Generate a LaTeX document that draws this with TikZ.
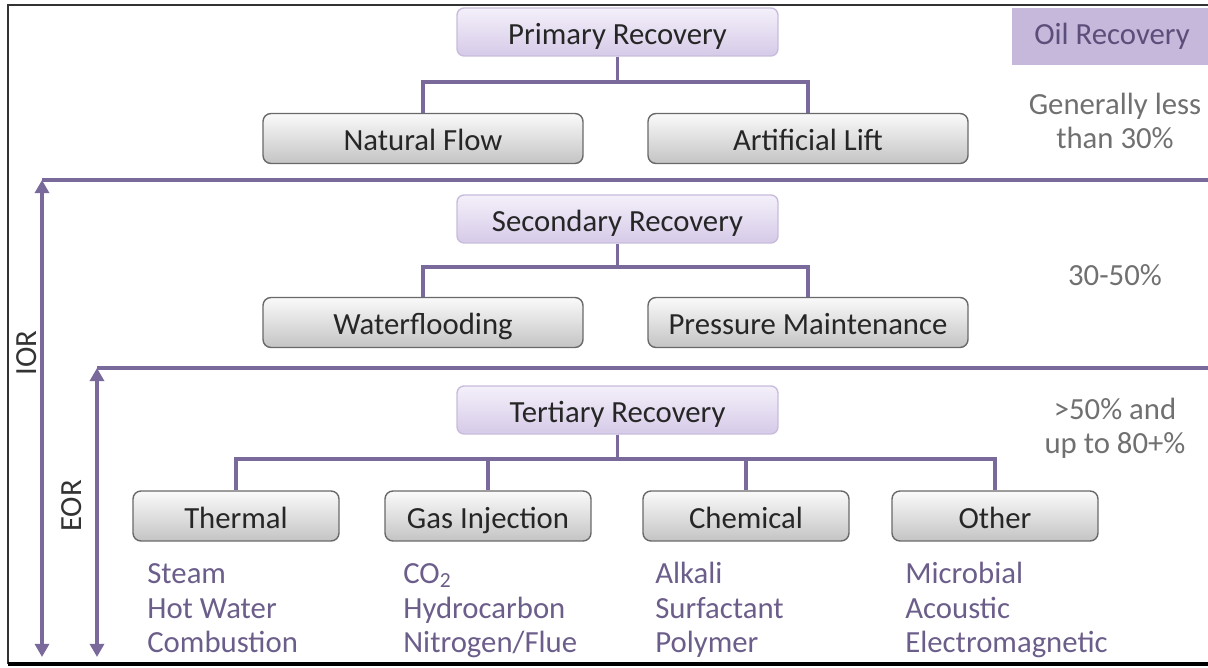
\documentclass[tikz,border=0pt]{standalone}
\usepackage{fontspec}
\setmainfont{Carlito}
\usetikzlibrary{positioning,arrows.meta}

\definecolor{lineviolet}{RGB}{122,106,155}
\definecolor{stageedge}{RGB}{200,188,220}
\definecolor{stagetop}{RGB}{244,240,250}
\definecolor{stagebot}{RGB}{214,202,232}
\definecolor{methodedge}{RGB}{105,105,105}
\definecolor{methodtop}{RGB}{250,250,250}
\definecolor{methodbot}{RGB}{196,196,196}
\definecolor{oilfill}{RGB}{197,184,218}
\definecolor{oiltext}{RGB}{92,78,122}
\definecolor{listtext}{RGB}{108,94,138}
\definecolor{sidetext}{RGB}{112,112,112}

\begin{document}
\begin{tikzpicture}
		[
			x=0.02cm, y=-0.02cm,
			every node/.style={font=\fontsize{17.5}{19.8}\selectfont},
			stage/.style={draw=stageedge, line width=0.8pt, rounded corners=4pt, top color=stagetop, bottom color=stagebot, minimum width=6.42cm, minimum height=0.96cm, text height=14pt, text depth=0pt, text=black!85},
			method/.style={draw=methodedge, line width=0.8pt, rounded corners=4.5pt, top color=methodtop, bottom color=methodbot, minimum width=6.4cm, minimum height=1.0cm, text height=14pt, text depth=0pt, text=black!85},
			technique/.style={method, minimum width=4.12cm},
			examples/.style={align=left, inner sep=0pt, text=listtext, anchor=base west},
			share/.style={align=center, inner sep=0pt, text=sidetext, anchor=base},
			conn/.style={draw=lineviolet, line width=2.1pt},
			span/.style={draw=lineviolet, line width=2.1pt, {Triangle[width=8pt,length=7.5pt]}-{Triangle[width=8pt,length=7.5pt]}}
		]
		\useasboundingbox (0,0) rectangle (1208,668);

		% frame
		\draw[black!80, line width=1.2pt] (1212,5) -- (8,5) -- (8,664);
		\draw[black, line width=1.8pt] (8,664) -- (1212,664);

		% stages
		\node[stage] (primary) at (617.5,32) {Primary Recovery};
		\node[method] (natural) at (423,138.5) {Natural Flow};
		\node[method] (artificial) at (808,138.5) {Artificial Lift};

		\node[stage] (secondary) at (617.5,219) {Secondary Recovery};
		\node[method] (waterflood) at (423,322.5) {Waterflooding};
		\node[method] (pressure) at (808,322.5) {Pressure Maintenance};

		\node[stage] (tertiary) at (617.5,410) {Tertiary Recovery};
		\node[technique] (thermal) at (236,516) {Thermal};
		\node[technique] (gas) at (488,516) {Gas Injection};
		\node[technique] (chemical) at (746,516) {Chemical};
		\node[technique] (other) at (995,516) {Other};

		\draw[conn] (primary.south) -- ++(0,25) -| (natural.north);
		\draw[conn] (primary.south) -- ++(0,25) -| (artificial.north);
		\draw[conn] (secondary.south) -- ++(0,23) -| (waterflood.north);
		\draw[conn] (secondary.south) -- ++(0,23) -| (pressure.north);
		\foreach \t in {thermal,gas,chemical,other}
			\draw[conn] (tertiary.south) -- ++(0,24) -| (\t.north);

		% methods under each technique
		\node[examples] (thermallist) at (147,653) {Steam\\Hot Water\\Combustion};
		\node[examples] (gaslist) at (403,653) {CO\textsubscript{2}\\Hydrocarbon\\Nitrogen/Flue};
		\node[examples] (chemlist) at (655,653) {Alkali\\Surfactant\\Polymer};
		\node[examples] (otherlist) at (905,653) {Microbial\\Acoustic\\Electromagnetic};

		% recovery factors
		\node[fill=oilfill, text=oiltext, minimum width=4cm, minimum height=1.14cm] (oil) at (1112,36.5) {Oil Recovery};
		\node[share] (primshare) at (1115,149) {Generally less\\than 30\%};
		\node[share] (secshare) at (1115,286) {30-50\%};
		\node[share] (tershare) at (1115,454) {>50\% and\\up to 80+\%};

		% IOR / EOR ranges
		\coordinate (iortop) at (42,180);
		\coordinate (iorbot) at (42,657);
		\coordinate (iorend) at (1212,180);
		\coordinate (eortop) at (97,368);
		\coordinate (eorbot) at (97,657);
		\coordinate (eorend) at (1212,368);
		\draw[conn] (iortop) -- (iorend);
		\draw[conn] (eortop) -- (eorend);
		\draw[span] (iortop) -- (iorbot);
		\draw[span] (eortop) -- (eorbot);
		\node[rotate=90, text=black!80] (ior) at (27,353) {IOR};
		\node[rotate=90, text=black!80] (eor) at (72,506) {EOR};
	\end{tikzpicture}
\end{document}
